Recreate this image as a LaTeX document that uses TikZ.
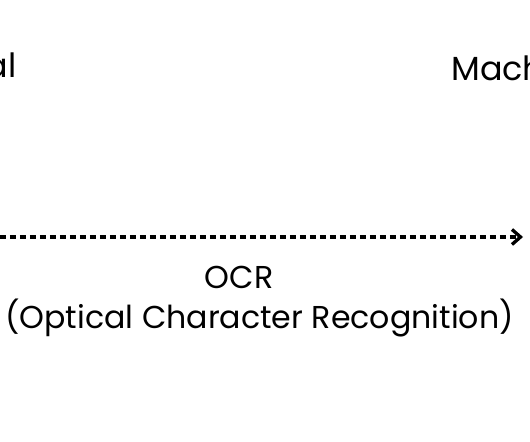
\documentclass[tikz,border=0pt]{standalone}
\usepackage{fontspec}
\setmainfont{Poppins}
\usetikzlibrary{positioning,arrows.meta}
\tikzset{
  titolo/.style = {inner sep=0, font=\fontsize{19}{22}\selectfont},
  freccia/.style = {line width=1.9pt, dash pattern=on 0.13cm off 0.07cm, -{Straight Barb[length=0.17cm,width=0.3cm,line width=1.9pt]}},
  et/.style = {inner sep=0, font=\fontsize{18}{21}\selectfont}
}

\begin{document}
\begin{tikzpicture}[x=0.02cm,y=0.02cm]
  \useasboundingbox (0,0) rectangle (530,442);
  \clip (0,0) rectangle (530,442);
  \node[titolo,anchor=base east] (src) at (17,364) {al};
  \node[titolo,anchor=base west] (dst) at (451,361) {Mach};
  \coordinate (a) at (0,205); \coordinate (b) at (523,205);
  \draw[freccia] (a)--(b);
  \node[et] (ocr) at (239,165) {OCR};
  \node[et,below=10 of ocr,xshift=0.41cm] (nome) {(Optical Character Recognition)};
\end{tikzpicture}
\end{document}
